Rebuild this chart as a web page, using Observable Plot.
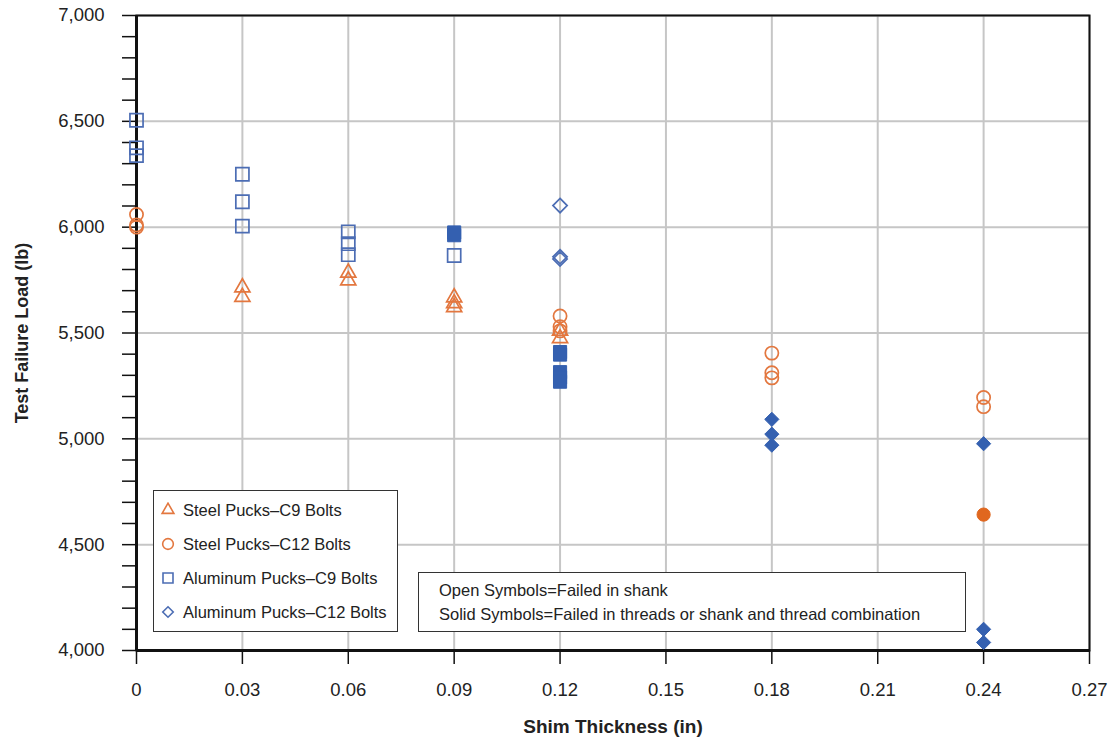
<!DOCTYPE html>
<html>
<head>
<meta charset="utf-8">
<script src="https://cdn.jsdelivr.net/npm/d3@7"></script>
<script src="https://cdn.jsdelivr.net/npm/@observablehq/plot@0.6"></script>
<style>
  body { margin: 0; background: #fff; font-family: "Liberation Sans", Arial, sans-serif; }
  #chart { position: relative; width: 1113px; height: 748px; }
  .box { position: absolute; background: #fff; border: 1.5px solid #333; box-sizing: border-box; color: #222; font-size: 16.5px; }
  .row { position: absolute; left: 0; display: flex; align-items: center; white-space: nowrap; }
  .row svg { margin-left: 6px; margin-right: 7px; }
  .note { position: absolute; left: 20px; white-space: nowrap; }
</style>
</head>
<body>
<div id="chart"></div>
<script>
// Shim thickness (in) vs. test failure load (lb), by puck material and bolt type.
// solid = failed in threads or shank/thread combination; open = failed in shank.
const steelC9 = [
  {t: 0.03, load: 5715, solid: false}, {t: 0.03, load: 5670, solid: false},
  {t: 0.06, load: 5785, solid: false}, {t: 0.06, load: 5748, solid: false},
  {t: 0.09, load: 5668, solid: false}, {t: 0.09, load: 5640, solid: false}, {t: 0.09, load: 5622, solid: false},
  {t: 0.12, load: 5510, solid: false}, {t: 0.12, load: 5475, solid: false}
];
const steelC12 = [
  {t: 0, load: 6060, solid: false}, {t: 0, load: 6010, solid: false}, {t: 0, load: 6000, solid: false},
  {t: 0.12, load: 5580, solid: false}, {t: 0.12, load: 5530, solid: false}, {t: 0.12, load: 5510, solid: false},
  {t: 0.18, load: 5405, solid: false}, {t: 0.18, load: 5312, solid: false}, {t: 0.18, load: 5288, solid: false},
  {t: 0.24, load: 5195, solid: false}, {t: 0.24, load: 5152, solid: false},
  {t: 0.24, load: 4642, solid: true}
];
const aluminumC9 = [
  {t: 0, load: 6505, solid: false}, {t: 0, load: 6375, solid: false}, {t: 0, load: 6338, solid: false},
  {t: 0.03, load: 6250, solid: false}, {t: 0.03, load: 6120, solid: false}, {t: 0.03, load: 6005, solid: false},
  {t: 0.06, load: 5978, solid: false}, {t: 0.06, load: 5922, solid: false}, {t: 0.06, load: 5870, solid: false},
  {t: 0.09, load: 5975, solid: true}, {t: 0.09, load: 5962, solid: true}, {t: 0.09, load: 5866, solid: false},
  {t: 0.12, load: 5410, solid: true}, {t: 0.12, load: 5398, solid: true}, {t: 0.12, load: 5315, solid: true},
  {t: 0.12, load: 5290, solid: true}, {t: 0.12, load: 5270, solid: true}
];
const aluminumC12 = [
  {t: 0.12, load: 6102, solid: false}, {t: 0.12, load: 5860, solid: false}, {t: 0.12, load: 5850, solid: false},
  {t: 0.18, load: 5092, solid: true}, {t: 0.18, load: 5022, solid: true}, {t: 0.18, load: 4970, solid: true},
  {t: 0.24, load: 4977, solid: true}, {t: 0.24, load: 4100, solid: true}, {t: 0.24, load: 4038, solid: true}
];

const xTicks = [0, 0.03, 0.06, 0.09, 0.12, 0.15, 0.18, 0.21, 0.24, 0.27];
const yTicks = [4000, 4500, 5000, 5500, 6000, 6500, 7000];
const yMinorTicks = d3.range(4000, 7001, 100);

const seriesNames = [
  "Steel Pucks\u2013C9 Bolts",
  "Steel Pucks\u2013C12 Bolts",
  "Aluminum Pucks\u2013C9 Bolts",
  "Aluminum Pucks\u2013C12 Bolts"
];
const noteLines = [
  "Open Symbols=Failed in shank",
  "Solid Symbols=Failed in threads or shank and thread combination"
];

const orange = "#e3773f", orangeSolid = "#e0671f";
const blue = "#4c6db4", blueSolid = "#3460b0";

const series = [
  {data: steelC9, symbol: "triangle", r: 5.6, color: orange, solidColor: orangeSolid},
  {data: steelC12, symbol: "circle", r: 6.6, color: orange, solidColor: orangeSolid},
  {data: aluminumC9, symbol: "square", r: 7.4, color: blue, solidColor: blueSolid},
  {data: aluminumC12, symbol: "diamond2", r: 6.4, color: blue, solidColor: blueSolid}
];

const marks = [
  Plot.gridX(xTicks.filter(d => d > 0), {stroke: "#c6c6c6", strokeOpacity: 1, strokeWidth: 2}),
  Plot.gridY(yTicks.filter(d => d > 4000), {stroke: "#c6c6c6", strokeOpacity: 1, strokeWidth: 2}),
  Plot.frame({stroke: "#111", strokeWidth: 2}),
  Plot.ruleX([0], {stroke: "#111", strokeWidth: 3}),
  Plot.ruleY([4000], {stroke: "#111", strokeWidth: 3}),
  Plot.axisY(yMinorTicks, {
    tickSize: 14, tickPadding: 18, strokeWidth: 1.5, stroke: "#111",
    tickFormat: d => (d % 500 === 0 ? d3.format(",")(d) : ""),
    fontSize: 18.5, label: null
  }),
  Plot.axisX(xTicks, {
    tickSize: 14, tickPadding: 18, strokeWidth: 1.5, stroke: "#111",
    tickFormat: d => (d === 0 ? "0" : d3.format(".2f")(d)),
    fontSize: 18.5, label: null
  }),
  Plot.text(["Test Failure Load (lb)"], {
    frameAnchor: "left", dx: -114, rotate: -90, textAnchor: "middle",
    fontSize: 18, fontWeight: "bold", fill: "#222"
  }),
  Plot.text(["Shim Thickness (in)"], {
    frameAnchor: "bottom", dy: 82,
    fontSize: 19, fontWeight: "bold", fill: "#222"
  })
];

for (const s of series) {
  marks.push(Plot.dot(s.data.filter(d => !d.solid), {
    x: "t", y: "load", symbol: s.symbol, r: s.r,
    fill: "none", stroke: s.color, strokeWidth: 1.7
  }));
  marks.push(Plot.dot(s.data.filter(d => d.solid), {
    x: "t", y: "load", symbol: s.symbol, r: s.r,
    fill: s.solidColor, stroke: s.solidColor, strokeWidth: 1
  }));
}

const chart = Plot.plot({
  width: 1113,
  height: 748,
  marginLeft: 136,
  marginRight: 24,
  marginTop: 15,
  marginBottom: 98,
  x: {domain: [0, 0.27], axis: null},
  y: {domain: [4000, 7000], axis: null},
  style: {fontFamily: "'Liberation Sans', Arial, sans-serif", color: "#222", background: "#fff"},
  marks
});

const host = document.getElementById("chart");
host.appendChild(chart);

// Series key
const key = document.createElement("div");
key.className = "box";
Object.assign(key.style, {left: "153px", top: "490px", width: "245px", height: "142px"});
const keySymbols = ["triangle", "circle", "square", "diamond2"];
const d3Symbols = {triangle: d3.symbolTriangle, circle: d3.symbolCircle, square: d3.symbolSquare, diamond2: d3.symbolDiamond2};
const keySizes = {triangle: 60, circle: 90, square: 100, diamond2: 70};
seriesNames.forEach((name, i) => {
  const row = document.createElement("div");
  row.className = "row";
  row.style.top = (8 + i * 34) + "px";
  row.style.height = "22px";
  const sym = keySymbols[i];
  const color = series[i].color;
  const path = d3.symbol(d3Symbols[sym], keySizes[sym])();
  row.innerHTML = `<svg width="16" height="16" viewBox="-8 -8 16 16"><path d="${path}" fill="none" stroke="${color}" stroke-width="1.6"/></svg><span>${name}</span>`;
  key.appendChild(row);
});
host.appendChild(key);

// Failure-mode note
const note = document.createElement("div");
note.className = "box";
Object.assign(note.style, {left: "418px", top: "572px", width: "548px", height: "60px"});
noteLines.forEach((line, i) => {
  const el = document.createElement("div");
  el.className = "note";
  el.style.top = (8 + i * 24) + "px";
  el.textContent = line;
  note.appendChild(el);
});
host.appendChild(note);
</script>
</body>
</html>
